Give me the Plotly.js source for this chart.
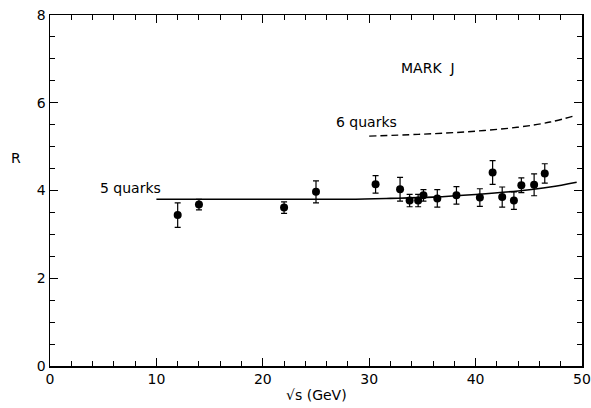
<!DOCTYPE html>
<html>
<head>
<meta charset="utf-8">
<script src="https://cdn.plot.ly/plotly-3.0.1.min.js"></script>
<style>html,body{margin:0;padding:0;background:#fff;}#chart{width:591px;height:408px;}</style>
</head>
<body>
<div id="chart"></div>
<script>
// Data points (MARK J)
const sqrtS = [12, 14, 22, 25, 30.6, 32.9, 33.8, 34.6, 35.1, 36.4, 38.2, 40.4, 41.6, 42.5, 43.6, 44.3, 45.5, 46.5];
const rValues = [3.44, 3.68, 3.61, 3.97, 4.14, 4.03, 3.77, 3.77, 3.89, 3.82, 3.89, 3.84, 4.41, 3.85, 3.77, 4.12, 4.13, 4.39];
const rErrors = [0.28, 0.12, 0.13, 0.25, 0.20, 0.27, 0.14, 0.14, 0.13, 0.20, 0.20, 0.20, 0.27, 0.23, 0.20, 0.17, 0.25, 0.22];

// Theory curves
const fiveQuarkX = [10, 20, 28, 32, 36, 40, 44, 47, 49.5];
const fiveQuarkR = [3.80, 3.80, 3.80, 3.82, 3.85, 3.91, 3.99, 4.08, 4.19];
const sixQuarkX = [30, 34.6, 39.3, 43.9, 47, 49.4];
const sixQuarkR = [5.24, 5.28, 5.34, 5.44, 5.56, 5.71];

// Tick labels
const xTickVals = [0, 10, 20, 30, 40, 50];
const xTickText = ['0', '10', '20', '30', '40', '50'];
const yTickVals = [0, 2, 4, 6, 8];
const yTickText = ['0', '2', '4', '6', '8'];

const font = {family: 'DejaVu Sans, sans-serif', size: 14, color: '#000'};

const traces = [
  {x: fiveQuarkX, y: fiveQuarkR, mode: 'lines', line: {color: '#000', width: 1.6, shape: 'spline'}, showlegend: false, hoverinfo: 'skip'},
  {x: sixQuarkX, y: sixQuarkR, mode: 'lines', line: {color: '#000', width: 1.4, dash: '7px,4px', shape: 'spline'}, showlegend: false, hoverinfo: 'skip'},
  {x: sqrtS, y: rValues, mode: 'markers', marker: {color: '#000', size: 8},
   error_y: {type: 'data', array: rErrors, visible: true, color: '#000', thickness: 1.2, width: 3},
   showlegend: false},
  // invisible trace so the mirrored top/right axes are drawn
  {x: [0, 50], y: [0, 8], xaxis: 'x2', yaxis: 'y2', mode: 'markers', marker: {opacity: 0}, showlegend: false, hoverinfo: 'skip'}
];

const axisCommon = {
  showgrid: false, zeroline: false, showline: true, linecolor: '#000', linewidth: 1.5,
  ticks: 'inside', tickcolor: '#000', tickwidth: 1.2, ticklen: 8,
  tickfont: font, fixedrange: true, ticklabeloverflow: 'allow'
};
const xMinor = {dtick: 2, tick0: 0, ticks: 'inside', ticklen: 5, tickcolor: '#000', tickwidth: 1};
const yMinor = {dtick: 0.5, tick0: 0, ticks: 'inside', ticklen: 5, tickcolor: '#000', tickwidth: 1};

const layout = {
  width: 591, height: 408,
  margin: {l: 50, r: 9, t: 15, b: 42},
  paper_bgcolor: '#fff', plot_bgcolor: '#fff',
  font: font,
  xaxis: Object.assign({}, axisCommon, {range: [0, 50], tickvals: xTickVals, ticktext: xTickText, minor: xMinor}),
  yaxis: Object.assign({}, axisCommon, {range: [0, 8], tickvals: yTickVals, ticktext: yTickText, minor: yMinor}),
  xaxis2: Object.assign({}, axisCommon, {range: [0, 50], tickvals: xTickVals, showticklabels: false, minor: xMinor,
    overlaying: 'x', side: 'top', anchor: 'y2'}),
  yaxis2: Object.assign({}, axisCommon, {range: [0, 8], tickvals: yTickVals, showticklabels: false, minor: yMinor,
    overlaying: 'y', side: 'right', anchor: 'x2'}),
  annotations: [
    {text: 'MARK\u00a0\u00a0J', xref: 'x', yref: 'y', x: 35.5, y: 6.79, showarrow: false, font: font},
    {text: '6 quarks', xref: 'x', yref: 'y', x: 29.7, y: 5.56, showarrow: false, font: font},
    {text: '5 quarks', xref: 'x', yref: 'y', x: 7.6, y: 4.05, showarrow: false, font: font},
    {text: 'R', xref: 'paper', yref: 'paper', x: -0.078, y: 0.594, showarrow: false, font: font},
    {text: '√s (GeV)', xref: 'paper', yref: 'paper', x: 0.5, y: -0.083, yanchor: 'middle', showarrow: false, font: font}
  ]
};

Plotly.newPlot('chart', traces, layout, {displayModeBar: false, staticPlot: true});
</script>
</body>
</html>
